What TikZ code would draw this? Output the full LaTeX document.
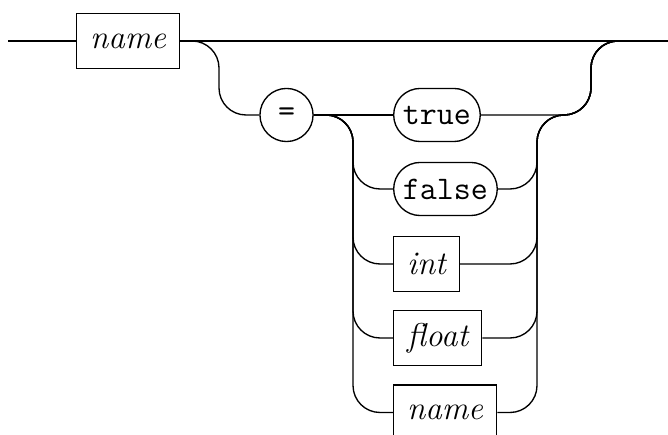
\documentclass[tikz,border=0pt]{standalone}
\usepackage{tikz}
\usetikzlibrary{positioning}
\tikzset{nt/.style={draw,rectangle,minimum height=18.3pt,inner xsep=4.5pt,font=\fontsize{11}{13}\selectfont\itshape},tm/.style={draw,rounded corners=8.85pt,minimum height=17.7pt,inner xsep=3.1pt,font=\fontsize{11}{13}\selectfont\ttfamily},eqc/.style={draw,circle,minimum size=17.7pt,inner sep=0pt,font=\fontsize{11}{13}\selectfont\ttfamily},rail/.style={rounded corners=9pt}}
\begin{document}
\begin{tikzpicture}[x=0.3333pt,y=-0.3333pt,line width=0.45pt]
\useasboundingbox(0,0)rectangle(668,435);\clip(0,0)rectangle(668,435);
\coordinate(in)at(8,41);\coordinate(out)at(668,41);
\coordinate(b1)at(219,0);\coordinate(b2)at(353,0);\coordinate(b3)at(537,0);\coordinate(b4)at(591,0);
\node[nt,anchor=west](name)at(76,41){name};\node[eqc](eq)at(286.5,115){=};
\node[tm,anchor=west](true)at(393,115){true};\node[tm,anchor=west](false)at(393,189){false};
\node[nt,anchor=west](int)at(393,264){int};\node[nt,anchor=west](float)at(393,338){float};
\node[nt,anchor=west](name2)at(393,412.5){name};
\draw(in)--(name);\draw(name)--(out);
\draw[rail](name.east)-|(b1|-eq)--(eq);\draw(eq)--(true);
\draw[rail](true)-|(b4|-out)--(out);
\foreach\n in{false,int,float,name2}{\draw[rail](eq.east)-|(b2|-\n)--(\n);\draw[rail](\n)-|(b3|-true)-|(b4|-out)--(out);}
\end{tikzpicture}
\end{document}
